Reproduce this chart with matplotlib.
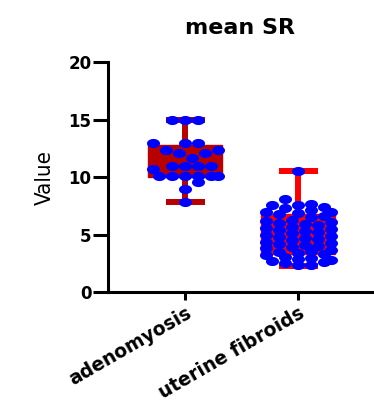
import numpy as np
import matplotlib
matplotlib.use('Agg')
import matplotlib.pyplot as plt
from matplotlib.path import Path

# values
groups = ['adenomyosis', 'uterine fibroids']
adenomyosis = [15.0, 15.0, 15.0, 13.0, 13.0, 13.0, 12.4, 12.4, 12.1, 12.1, 11.7,
               11.0, 11.0, 11.0, 11.0, 10.7, 10.1, 10.1, 10.1, 10.1, 10.1, 10.1,
               9.6, 9.0, 7.8]
fibroids = [10.5, 8.1, 7.7, 7.6, 7.6, 7.4, 7.3, 7.1, 7.0, 7.0, 6.9, 6.8, 6.6, 6.5,
            6.3, 6.2, 6.1, 6.0, 5.9, 5.8, 5.7, 5.6, 5.5, 5.4, 5.3, 5.2, 5.1, 5.0,
            4.9, 4.8, 4.7, 4.6, 4.5, 4.4, 4.3, 4.2, 4.1, 4.0, 3.9, 3.8, 3.7, 3.6,
            3.5, 3.4, 3.3, 3.2, 3.1, 3.0, 2.9, 2.8, 2.7, 2.6, 2.5, 2.4, 2.4]
# box stats (GraphPad style, whiskers min to max)
q1 = [10.0, 3.3]
med = [11.0, 5.0]
q3 = [12.8, 6.8]
lo = [7.8, 2.3]
hi = [15.0, 10.5]
yticks = [0, 5, 10, 15, 20]

box_colors = ['#b80000', '#ff0000']
dot_color = '#0000ff'

fig = plt.figure(figsize=(3.74, 4.03), dpi=100)
ax = fig.add_axes([0.289, 0.275, 0.706, 0.571])
ax.set_xlim(-0.681, 1.655)
ax.set_ylim(0, 20)

stats = []
for i in range(2):
    stats.append({'q1': q1[i], 'med': med[i], 'q3': q3[i], 'whislo': lo[i], 'whishi': hi[i], 'fliers': []})

for i in range(2):
    c = box_colors[i]
    ax.bxp([stats[i]], positions=[i], widths=0.66, capwidths=0.345, patch_artist=True,
           showfliers=False,
           boxprops=dict(facecolor=c, edgecolor=c, linewidth=1),
           whiskerprops=dict(color=c, linewidth=4.3, solid_capstyle='butt'),
           capprops=dict(color=c, linewidth=4.3, solid_capstyle='butt'),
           medianprops=dict(color=c, linewidth=1))

# ellipse marker (wider than tall)
t = np.linspace(0, 2 * np.pi, 41)
ellipse = Path(np.column_stack([np.cos(t), 0.7 * np.sin(t)]))
mw, mh = 13.0, 9.0   # marker size in pixels


def swarm(vals, pos, maxoff):
    # place points side by side in pixel space so they don't pile up
    pts = ax.transData.transform(np.column_stack([np.full(len(vals), pos), vals]))
    order = np.argsort(vals)
    placed = []
    xs = np.zeros(len(vals))
    steps = [0]
    k = 1
    while k * mw / 2 <= maxoff:
        steps += [k * mw / 2, -k * mw / 2]
        k += 1
    for j in order:
        px, py = pts[j]
        best = None
        for s in steps:
            pen = 0.0
            for (qx, qy) in placed:
                d = ((px + s - qx) / mw) ** 2 + ((py - qy) / mh) ** 2
                if d < 1:
                    pen += 1 - d
            if best is None or pen < best[0] - 1e-9:
                best = (pen, s)
            if pen == 0:
                break
        xs[j] = px + best[1]
        placed.append((xs[j], py))
    back = ax.transData.inverted().transform(np.column_stack([xs, pts[:, 1]]))
    return back[:, 0]


for i, vals in enumerate([adenomyosis, fibroids]):
    xs = swarm(np.array(vals), i, 33)
    ax.scatter(xs, vals, marker=ellipse, s=9.4 ** 2, color=dot_color, linewidths=0,
               zorder=5, clip_on=False)

for side in ['top', 'right']:
    ax.spines[side].set_visible(False)
ax.spines['left'].set_linewidth(2.2)
ax.spines['bottom'].set_linewidth(2.2)
ax.set_yticks(yticks)
ax.set_yticklabels([str(v) for v in yticks], fontfamily='DejaVu Sans', fontweight='bold', fontsize=12)
ax.tick_params(axis='y', length=11, width=2.2, pad=1)
ax.set_xticks([0, 1])
ax.set_xticklabels(groups, rotation=30, ha='right', rotation_mode='anchor',
                   fontfamily='DejaVu Sans', fontweight='bold', fontsize=13.5)
ax.tick_params(axis='x', length=6, width=2.2, pad=2)

ax.set_ylabel('Value', fontfamily='DejaVu Sans', fontstretch='condensed', fontsize=16, labelpad=10)
ax.set_title('mean SR', fontfamily='DejaVu Sans', fontweight='bold', fontsize=16, pad=20)

fig.savefig('out.png', dpi=100)
